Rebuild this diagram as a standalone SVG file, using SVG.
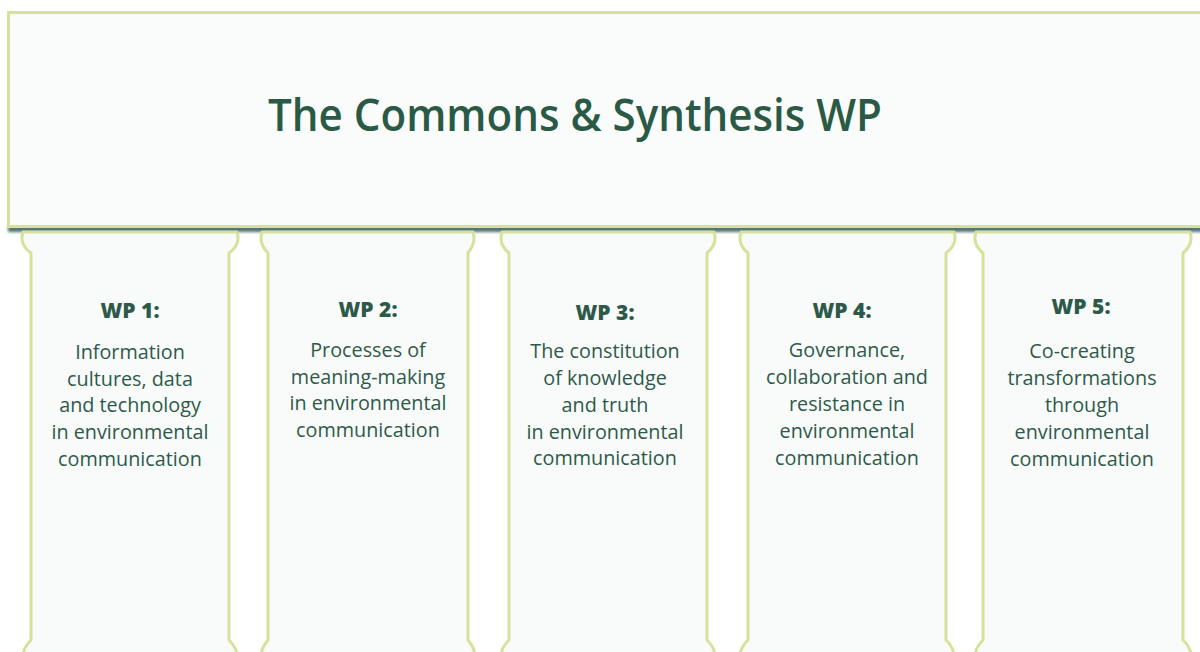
<svg xmlns="http://www.w3.org/2000/svg" width="1200" height="652" viewBox="0 0 1200 652">
  <defs>
    <filter id="blur" x="-5%" y="-200%" width="110%" height="500%">
      <feGaussianBlur stdDeviation="1.6"/>
    </filter>
  </defs>
  <style>
    .pillar { fill: #f9fbfb; stroke: #d6e29c; stroke-width: 3; stroke-linejoin: round; }
    .box { fill: #fafcfb; stroke: #d6e29c; stroke-width: 3; }
    .title { font-family: "Open Sans", "Noto Sans", sans-serif; font-weight: 600; font-size: 45px; fill: #2a5a45; text-anchor: middle; }
    .wp { font-family: "Open Sans", "Noto Sans", sans-serif; font-weight: 800; font-size: 21px; fill: #2d5a48; text-anchor: middle; }
    .body { font-family: "Open Sans", "Noto Sans", sans-serif; font-weight: 400; font-size: 19.8px; fill: #2d5a48; text-anchor: middle; }
  </style>
  <rect width="1200" height="652" fill="#ffffff"/>

  <g id="commons">
    <rect x="8" y="226" width="1200" height="6" fill="#4f7468" filter="url(#blur)"/>
    <rect class="box" x="8.5" y="12.5" width="1200" height="214"/>
    <text class="title" x="575" y="131" textLength="614" lengthAdjust="spacingAndGlyphs">The Commons &amp; Synthesis WP</text>
  </g>

  <g id="wp1">
    <path class="pillar" d="M23 232 H237 C240 241 236 248 229 253 V640 C234 645 236 648 237 654 H23 C24 648 26 645 31 640 V253 C24 248 20 241 23 232 Z"/>
    <text class="wp" x="130" y="318">WP 1:</text>
    <text class="body" x="130" y="359">Information</text>
    <text class="body" x="130" y="386">cultures, data</text>
    <text class="body" x="130" y="412">and technology</text>
    <text class="body" x="130" y="439">in environmental</text>
    <text class="body" x="130" y="466">communication</text>
  </g>

  <g id="wp2">
    <path class="pillar" d="M262 232 H473 C476 241 472 248 468 253 V640 C472 645 474 648 475 654 H261 C262 648 264 645 268 640 V253 C263 248 259 241 262 232 Z"/>
    <text class="wp" x="368" y="317">WP 2:</text>
    <text class="body" x="368" y="357">Processes of</text>
    <text class="body" x="368" y="384">meaning-making</text>
    <text class="body" x="368" y="410">in environmental</text>
    <text class="body" x="368" y="437">communication</text>
  </g>

  <g id="wp3">
    <path class="pillar" d="M502 232 H714 C717 241 713 248 707 253 V640 C712 645 714 648 715 654 H501 C502 648 504 645 509 640 V253 C503 248 499 241 502 232 Z"/>
    <text class="wp" x="605" y="320">WP 3:</text>
    <text class="body" x="605" y="358">The constitution</text>
    <text class="body" x="605" y="385">of knowledge</text>
    <text class="body" x="605" y="412">and truth</text>
    <text class="body" x="605" y="439">in environmental</text>
    <text class="body" x="605" y="465">communication</text>
  </g>

  <g id="wp4">
    <path class="pillar" d="M741 232 H954 C957 241 953 248 946 253 V640 C951 645 953 648 954 654 H740 C741 648 743 645 748 640 V253 C742 248 738 241 741 232 Z"/>
    <text class="wp" x="842" y="318">WP 4:</text>
    <text class="body" x="847" y="357">Governance,</text>
    <text class="body" x="847" y="384">collaboration and</text>
    <text class="body" x="847" y="411">resistance in</text>
    <text class="body" x="847" y="438">environmental</text>
    <text class="body" x="847" y="465">communication</text>
  </g>

  <g id="wp5">
    <path class="pillar" d="M976 232 H1190 C1193 241 1189 248 1183 253 V640 C1188 645 1190 648 1191 654 H975 C976 648 978 645 983 640 V253 C977 248 973 241 976 232 Z"/>
    <text class="wp" x="1081" y="314">WP 5:</text>
    <text class="body" x="1082" y="358">Co-creating</text>
    <text class="body" x="1082" y="385">transformations</text>
    <text class="body" x="1082" y="412">through</text>
    <text class="body" x="1082" y="439">environmental</text>
    <text class="body" x="1082" y="466">communication</text>
  </g>

  <g id="connectors"></g>
</svg>
